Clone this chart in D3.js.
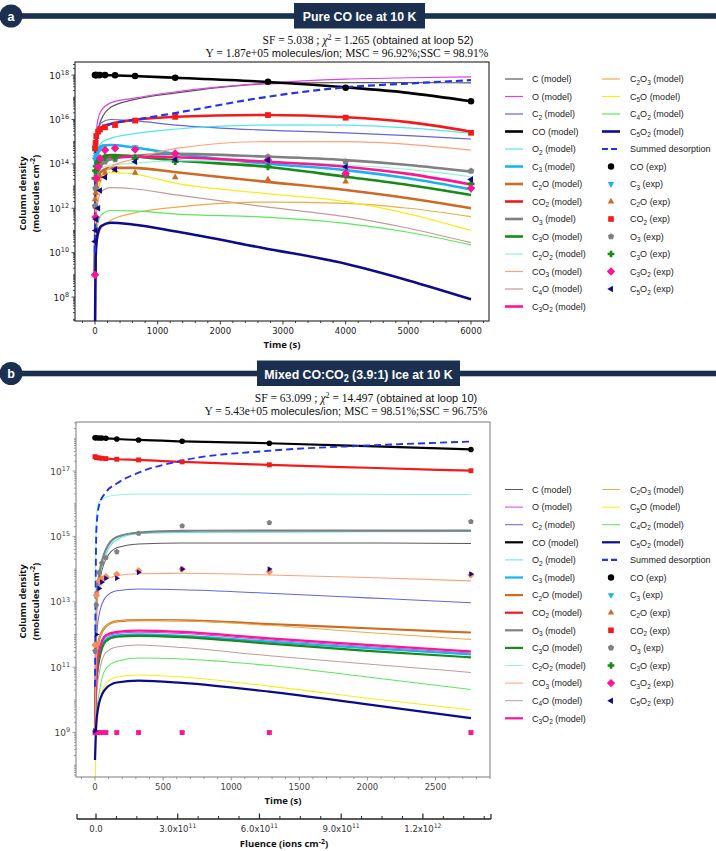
<!DOCTYPE html>
<html>
<head>
<meta charset="utf-8">
<script src="https://cdn.jsdelivr.net/npm/d3@7"></script>
<style>
  body { margin: 0; background: #fff; }
  svg { display: block; }
</style>
</head>
<body>
<div id="chart"></div>
<script>
// All values are log10(column density / molecules cm^-2).

// ---------- panel a : pure CO ice ----------
const modelTimesA = [0, 10, 40, 100, 250, 600, 1300, 2700, 4000, 5000, 6000];
const aC    = [9, 14.3, 15.4, 16.0, 16.55, 16.88, 17.2, 17.6, 17.66, 17.66, 17.65];
const aO    = [9, 14.8, 15.9, 16.4, 16.75, 16.95, 17.25, 17.63, 17.82, 17.88, 17.92];
const aC2   = [9, 14.0, 15.3, 15.85, 16.0, 15.95, 15.75, 15.52, 15.4, 15.27, 15.12];
const aCO   = [18.0, 18.0, 18.0, 18.0, 17.99, 17.96, 17.88, 17.7, 17.45, 17.2, 16.82];
const aO2   = [9, 13.5, 14.5, 14.95, 15.15, 15.35, 15.57, 15.75, 15.75, 15.62, 15.38];
const aC3   = [9, 13.8, 14.55, 14.8, 14.85, 14.75, 14.45, 14.02, 13.72, 13.35, 12.85];
const aC2O  = [9, 12.5, 13.3, 13.65, 13.82, 13.82, 13.62, 13.2, 12.82, 12.45, 12.0];
const aCO2  = [14.5, 14.9, 15.35, 15.65, 15.8, 15.97, 16.12, 16.2, 16.1, 15.88, 15.45];
const aO3   = [9, 12.5, 13.5, 13.95, 14.2, 14.35, 14.45, 14.33, 14.17, 13.95, 13.65];
const aC3O  = [9, 13.0, 13.9, 14.3, 14.4, 14.35, 14.15, 13.88, 13.42, 13.05, 12.6];
const aC2O2 = [9, 12.8, 13.5, 13.8, 13.95, 14.02, 14.15, 14.1, 13.95, 13.75, 13.42];
const aCO3  = [9, 11.5, 12.6, 13.3, 13.85, 14.2, 14.7, 15.0, 15.0, 14.88, 14.62];
const aC4O  = [9, 11.0, 12.2, 12.75, 12.93, 12.88, 12.6, 12.07, 11.62, 11.1, 10.45];
const aC3O2 = [9, 13.2, 13.95, 14.2, 14.3, 14.32, 14.3, 14.1, 13.87, 13.55, 13.07];
const aC2O3 = [9, 9.8, 10.6, 11.1, 11.45, 11.77, 12.05, 12.28, 12.22, 12.0, 11.62];
const aC5O  = [9, 11.5, 12.8, 13.4, 13.62, 13.55, 13.12, 12.67, 12.3, 11.75, 11.0];
const aC4O2 = [9, 10.3, 11.2, 11.7, 11.9, 11.88, 11.74, 11.6, 11.32, 10.92, 10.35];
const aC5O2 = [6.0, 9.8, 10.8, 11.2, 11.35, 11.27, 10.95, 10.2, 9.5, 8.75, 7.9];
const aSum  = [10.0, 14.8, 15.3, 15.55, 15.8, 15.97, 16.3, 17.0, 17.45, 17.62, 17.77];

const expTimesA = [0, 10, 20, 50, 80, 160, 320, 640, 1280, 2760, 4000, 6000];
const aCOexp   = [18.0, 18.0, 18.0, 18.0, 18.0, 18.0, 17.99, 17.96, 17.88, 17.7, 17.43, 16.82];
const aC3exp   = [14.2, 14.3, 14.4, 14.55, 14.7, 14.8, 14.8, 14.75, 14.45, 14.0, 13.7, 12.85];
const aC2Oexp  = [12.4, 12.7, 13.0, 13.3, 13.45, 13.6, 13.72, 13.6, 13.4, 13.3, 13.2, null];
const aCO2exp  = [14.7, 14.95, 15.25, 15.45, 15.55, 15.65, 15.75, 15.95, 16.12, 16.2, 16.08, 15.4];
const aO3exp   = [12.1, 12.9, 13.6, 13.8, 13.95, 14.1, 14.2, 14.3, 14.43, 14.32, 14.1, 13.68];
const aC3Oexp  = [13.35, 13.7, 13.9, 14.1, 14.2, 14.3, 14.3, 14.25, 14.1, 13.87, 13.5, 13.1];
const aC3O2exp = [9.0, 11.6, 13.35, 13.87, 14.25, 14.62, 14.7, 14.65, 14.47, 14.17, 13.57, 12.9];
const aC5O2exp = [10.5, 11.0, 11.5, 12.0, 12.8, 13.4, 13.75, 14.1, 14.2, 14.17, 13.87, 13.3];

// ---------- panel b : mixed CO:CO2 ice ----------
const modelTimesB = [0, 10, 30, 80, 160, 320, 640, 1280, 2000, 2760];
const bC    = [9, 12.6, 13.5, 14.3, 14.65, 14.77, 14.8, 14.8, 14.8, 14.78];
const bO    = [9, 10.7, 11.4, 11.93, 12.03, 12.07, 12.03, 11.83, 11.63, 11.43];
const bC2   = [9, 11.8, 12.6, 13.15, 13.34, 13.39, 13.37, 13.26, 13.12, 12.97];
const bCO   = [18.02, 18.02, 18.01, 18.0, 17.98, 17.95, 17.91, 17.85, 17.76, 17.66];
const bO2   = [9, 12.8, 13.6, 14.45, 14.9, 15.08, 15.12, 15.13, 15.14, 15.15];
const bC3   = [9, 10.6, 11.3, 11.85, 11.97, 12.0, 11.96, 11.78, 11.58, 11.39];
const bC2O  = [9, 11.2, 11.85, 12.25, 12.4, 12.44, 12.43, 12.32, 12.19, 12.06];
const bCO2  = [17.44, 17.41, 17.4, 17.38, 17.36, 17.34, 17.28, 17.19, 17.1, 17.01];
const bO3   = [9, 13.1, 13.8, 14.6, 14.98, 15.12, 15.17, 15.18, 15.18, 15.18];
const bC3O  = [9, 10.5, 11.2, 11.8, 11.93, 11.96, 11.92, 11.72, 11.5, 11.3];
const bC2O2 = [12, 15.6, 16.05, 16.2, 16.27, 16.3, 16.3, 16.3, 16.29, 16.28];
const bCO3  = [9, 12.8, 13.35, 13.68, 13.8, 13.86, 13.87, 13.82, 13.74, 13.64];
const bC4O  = [9, 10.0, 10.8, 11.45, 11.62, 11.68, 11.6, 11.35, 11.1, 10.84];
const bC3O2 = [9, 10.8, 11.5, 11.98, 12.08, 12.12, 12.08, 11.88, 11.68, 11.48];
const bC2O3 = [9, 11.2, 11.85, 12.25, 12.4, 12.44, 12.42, 12.28, 12.06, 11.85];
const bC5O  = [7.0, 9.0, 9.8, 10.5, 10.7, 10.76, 10.7, 10.42, 10.05, 9.69];
const bC4O2 = [8.5, 9.5, 10.2, 10.95, 11.18, 11.28, 11.25, 11.05, 10.7, 10.32];
const bC5O2 = [8.16, 9.3, 9.9, 10.35, 10.53, 10.59, 10.52, 10.25, 9.86, 9.44];
const bSum  = [10.4, 15.2, 15.95, 16.35, 16.62, 16.95, 17.32, 17.62, 17.78, 17.9];

const expTimesB = [0, 10, 30, 50, 80, 160, 320, 640, 1280, 2760];
const bCOexp   = [18.02, 18.02, 18.01, 18.01, 18.0, 17.98, 17.95, 17.91, 17.85, 17.66];
const bC3exp   = [9, 9, 9, 9, 9, 9, 9, 9, 9, 9];
const bC2Oexp  = [11.68, 13.2, 13.64, 13.7, 13.77, 13.84, 13.95, 14.0, 13.92, 13.82];
const bCO2exp  = [17.44, 17.41, 17.4, 17.39, 17.38, 17.36, 17.34, 17.28, 17.19, 17.01];
const bO3exp   = [11.5, 12.9, 13.9, 14.18, 14.35, 14.53, 15.09, 15.32, 15.42, 15.45];
const bC3Oexp  = [null, null, null, null, null, null, null, null, null, null];
const bC3O2exp = [9, 9, 9, 9, 9, 9, 9, 9, 9, 9];
const bC5O2exp = [9.05, 12.0, 13.41, 13.6, 13.72, 13.72, 13.9, 14.0, 14.0, 13.85];

// ---------- styles ----------
const modelStyles = [
  { sp: "C",    color: "#5a5a5a", w: 1.2 },
  { sp: "O",    color: "#e040e0", w: 1.2 },
  { sp: "C2",   color: "#6464dc", w: 1.2 },
  { sp: "CO",   color: "#000000", w: 2.6 },
  { sp: "O2",   color: "#50e6ee", w: 1.2 },
  { sp: "C3",   color: "#18b4f0", w: 2.6 },
  { sp: "C2O",  color: "#cd6a24", w: 2.6 },
  { sp: "CO2",  color: "#f21a1a", w: 2.6 },
  { sp: "O3",   color: "#808080", w: 2.6 },
  { sp: "C3O",  color: "#178a17", w: 2.6 },
  { sp: "C2O2", color: "#8ef5d8", w: 1.2 },
  { sp: "CO3",  color: "#ffa07a", w: 1.2 },
  { sp: "C4O",  color: "#c49a9a", w: 1.2 },
  { sp: "C3O2", color: "#ff1493", w: 2.6 },
  { sp: "C2O3", color: "#f0aa48", w: 1.2 },
  { sp: "C5O",  color: "#f4ef14", w: 1.2 },
  { sp: "C4O2", color: "#5ae85a", w: 1.2 },
  { sp: "C5O2", color: "#0b0b8c", w: 2.6 }
];
const expStyles = [
  { sp: "CO",   color: "#000000", shape: "circle" },
  { sp: "C3",   color: "#18b4f0", shape: "tdown" },
  { sp: "C2O",  color: "#cd6a24", shape: "tup" },
  { sp: "CO2",  color: "#f21a1a", shape: "square" },
  { sp: "O3",   color: "#808080", shape: "pentagon" },
  { sp: "C3O",  color: "#178a17", shape: "plus" },
  { sp: "C3O2", color: "#ff1493", shape: "diamond" },
  { sp: "C5O2", color: "#0b0b8c", shape: "tleft" }
];
const SUM_COLOR = "#1e32f0";
const NAVY = "#1b3050";
const W = 716, H = 851;
const LEG_FONT = "'Liberation Sans', Arial, sans-serif";

const svg = d3.select("#chart").append("svg")
  .attr("width", W).attr("height", H)
  .style("font-family", "'DejaVu Sans', sans-serif");

// ---------- helpers ----------
function addFormula(sel, str, size) {
  // digits in a chemical formula are drawn as subscripts
  const parts = str.match(/[A-Za-z]+|\d+/g);
  let down = false;
  parts.forEach(p => {
    const isNum = /^\d+$/.test(p);
    const t = sel.append("tspan").text(p);
    if (isNum) { t.attr("dy", size * 0.28).attr("font-size", size * 0.72); down = true; }
    else if (down) { t.attr("dy", -size * 0.28); down = false; }
  });
  return down;
}

function addPow(sel, base, exp, size) {
  sel.append("tspan").text(base);
  sel.append("tspan").text(exp).attr("dy", -size * 0.42).attr("font-size", size * 0.72);
}

function markerPath(shape, r) {
  const rot = (pts, a) => pts.map(([px, py]) => [px * Math.cos(a) - py * Math.sin(a), px * Math.sin(a) + py * Math.cos(a)]);
  const poly = pts => d3.line()(pts) + "Z";
  const tri = [[0, -r * 1.15], [r, r * 0.6], [-r, r * 0.6]];
  switch (shape) {
    case "circle": return d3.symbol(d3.symbolCircle, Math.PI * r * r)();
    case "square": return d3.symbol(d3.symbolSquare, (1.75 * r) ** 2)();
    case "diamond": return poly([[0, -r * 1.3], [r * 1.3, 0], [0, r * 1.3], [-r * 1.3, 0]]);
    case "tup": return poly(tri);
    case "tdown": return poly(rot(tri, Math.PI));
    case "tleft": return poly(rot(tri, -Math.PI / 2));
    case "tright": return poly(rot(tri, Math.PI / 2));
    case "pentagon": return poly(d3.range(5).map(i => {
      const a = -Math.PI / 2 + i * 2 * Math.PI / 5;
      return [r * 1.05 * Math.cos(a), r * 1.05 * Math.sin(a)];
    }));
    case "plus": {
      const a = r * 1.05, b = r * 0.42;
      return poly([[-b, -a], [b, -a], [b, -b], [a, -b], [a, b], [b, b], [b, a], [-b, a], [-b, b], [-a, b], [-a, -b], [-b, -b]]);
    }
  }
}

function drawHeader(cy, letter, boxX, boxW, fill) {
  svg.append("rect").attr("x", 11).attr("y", cy - 2.8).attr("width", W - 11).attr("height", 5.6).attr("fill", NAVY);
  svg.append("circle").attr("cx", 11).attr("cy", cy).attr("r", 11.5).attr("fill", NAVY);
  svg.append("text").attr("x", 11).attr("y", cy + 4.5).attr("text-anchor", "middle")
    .attr("fill", "#fff").attr("font-weight", "bold").attr("font-size", 12.5)
    .attr("font-family", "'Liberation Sans', Arial, sans-serif").text(letter);
  svg.append("rect").attr("x", boxX).attr("y", cy - 13).attr("width", boxW).attr("height", 25.5).attr("fill", NAVY);
  // narrow bold title: Liberation Sans squeezed horizontally
  const t = svg.append("text")
    .attr("transform", `translate(${boxX + boxW / 2},${cy + 5.2}) scale(0.9,1)`)
    .attr("text-anchor", "middle").attr("fill", "#fff").attr("font-weight", "bold")
    .attr("font-size", 13.7).attr("font-family", "'Liberation Sans', Arial, sans-serif");
  fill(t);
}

function drawStats(cx1, cx2, y1, y2, sf, chi, loop, yld, msc, ssc) {
  const serif = "'Liberation Serif', 'DejaVu Serif', serif";
  const narrow = "'Liberation Sans Narrow', 'Liberation Sans', sans-serif";
  const l1 = svg.append("text").attr("x", cx1).attr("y", y1).attr("text-anchor", "middle")
    .attr("font-size", 11.5).attr("fill", "#111").attr("font-family", serif);
  l1.append("tspan").text(`SF = ${sf} ; `);
  l1.append("tspan").text("χ").attr("font-style", "italic");
  l1.append("tspan").text("2").attr("dy", -4.5).attr("font-size", 8);
  l1.append("tspan").text(` = ${chi} `).attr("dy", 4.5);
  l1.append("tspan").text(`(obtained at loop ${loop})`).attr("font-family", narrow).attr("font-size", 11);
  const l2 = svg.append("text").attr("x", cx2).attr("y", y2).attr("text-anchor", "middle")
    .attr("font-size", 11.5).attr("fill", "#111").attr("font-family", serif);
  l2.append("tspan").text(`Y = ${yld} `);
  l2.append("tspan").text("molecules/ion; ").attr("font-family", narrow).attr("font-size", 11);
  l2.append("tspan").text(`MSC = ${msc}%;SSC = ${ssc}%`);
}

function drawPanel(p) {
  const x = d3.scaleLinear().domain(p.xDomain).range([p.left, p.right]);
  const y = d3.scaleLog().domain(p.yDomain).range([p.bottom, p.top]);
  const clipId = "clip-" + p.id;
  svg.append("clipPath").attr("id", clipId).append("rect")
    .attr("x", p.left).attr("y", p.top).attr("width", p.right - p.left).attr("height", p.bottom - p.top);

  const line = d3.line()
    .defined(d => d[1] != null)
    .x(d => x(d[0])).y(d => y(Math.pow(10, d[1])))
    .curve(d3.curveMonotoneX);

  const gLines = svg.append("g").attr("clip-path", `url(#${clipId})`);
  p.models.forEach((vals, i) => {
    const st = modelStyles[i];
    gLines.append("path")
      .datum(p.modelTimes.map((t, j) => [t, vals[j]]))
      .attr("d", line).attr("fill", "none")
      .attr("stroke", st.color).attr("stroke-width", st.w * p.lw)
      .attr("stroke-linejoin", "round");
  });
  gLines.append("path")
    .datum(p.modelTimes.map((t, j) => [t, p.sum[j]]))
    .attr("d", line).attr("fill", "none")
    .attr("stroke", SUM_COLOR).attr("stroke-width", 2.2 * p.lw)
    .attr("stroke-dasharray", "7,4");

  const gPts = svg.append("g");
  p.exps.forEach((vals, i) => {
    const st = expStyles[i];
    const shape = (p.shapeOverride && p.shapeOverride[i]) || st.shape;
    const color = (p.colorOverride && p.colorOverride[i]) || st.color;
    gPts.selectAll(null)
      .data(p.expTimes.map((t, j) => [t, vals[j]]).filter(d => d[1] != null))
      .join("path")
      .attr("transform", d => `translate(${x(d[0])},${y(Math.pow(10, d[1]))})`)
      .attr("d", markerPath(shape, p.mr))
      .attr("fill", color);
  });

  // frame
  svg.append("rect").attr("x", p.left).attr("y", p.top)
    .attr("width", p.right - p.left).attr("height", p.bottom - p.top)
    .attr("fill", "none").attr("stroke", p.frame).attr("stroke-width", 1.1);

  // x ticks
  const gx = svg.append("g").attr("stroke", p.frame).attr("stroke-width", 0.9);
  d3.range(p.xMinor[0], p.xMinor[1] + 1, p.xMinor[2]).forEach(v => {
    if (x(v) < p.left || x(v) > p.right) return;
    const major = v % p.xMajorStep === 0 && v >= 0;
    gx.append("line").attr("x1", x(v)).attr("x2", x(v))
      .attr("y1", p.bottom).attr("y2", p.bottom + (major ? 3.5 : 2));
  });
  d3.range(0, p.xMajorMax + 1, p.xMajorStep).forEach(v => {
    svg.append("text").attr("x", x(v)).attr("y", p.bottom + 13).attr("text-anchor", "middle")
      .attr("font-size", 8.5).attr("fill", p.labelColor).text(v);
  });
  svg.append("text").attr("x", (p.left + p.right) / 2).attr("y", p.bottom + 27)
    .attr("text-anchor", "middle").attr("font-size", 9.5).attr("font-weight", "bold")
    .attr("font-family", "'Open Sans', sans-serif").attr("fill", "#111").text("Time (s)");

  // y ticks (log)
  const gy = svg.append("g").attr("stroke", p.frame).attr("stroke-width", 0.8);
  const [lo, hi] = p.yDomain.map(Math.log10);
  for (let d = Math.floor(lo); d <= Math.ceil(hi); d++) {
    for (let k = 1; k <= 9; k++) {
      const v = k * Math.pow(10, d);
      if (v < p.yDomain[0] || v > p.yDomain[1]) continue;
      const major = k === 1 && p.yMajor.includes(d);
      gy.append("line").attr("x1", p.left).attr("x2", p.left - (major ? 3.5 : 2))
        .attr("y1", y(v)).attr("y2", y(v));
    }
  }
  p.yMajor.forEach(d => {
    const t = svg.append("text").attr("x", p.left - 6).attr("y", y(Math.pow(10, d)) + 3.5)
      .attr("text-anchor", "end").attr("font-size", 9).attr("fill", p.labelColor);
    addPow(t, "10", d, 9);
  });
  const cy = (p.top + p.bottom) / 2 + 2;
  const yl = svg.append("text").attr("transform", `translate(26,${cy}) rotate(-90)`)
    .attr("text-anchor", "middle").attr("font-size", 9.5).attr("font-weight", "bold")
    .attr("font-family", "'Open Sans', sans-serif").attr("fill", "#111");
  yl.append("tspan").attr("x", 0).attr("y", 0).text("Column density");
  const yl2 = yl.append("tspan").attr("x", 0).attr("y", 12.5);
  yl2.append("tspan").text("(molecules cm");
  yl2.append("tspan").text("-2").attr("dy", -3.5).attr("font-size", 7);
  yl2.append("tspan").text(")").attr("dy", 3.5);

  // legend
  const lg = svg.append("g").attr("font-size", 9).attr("font-family", LEG_FONT);
  const rowY = i => p.legY + i * p.legDy;
  const entry = (col, row) => ({ lx: col === 0 ? 505 : 602, tx: col === 0 ? 532 : 630, y: rowY(row) });
  const legendItems = [];
  modelStyles.forEach(st => legendItems.push({ kind: "model", st, label: " (model)" }));
  legendItems.push({ kind: "sum" });
  expStyles.forEach(st => legendItems.push({ kind: "exp", st, label: " (exp)" }));
  legendItems.forEach((it, i) => {
    const col = i < 14 ? 0 : 1;
    const row = i < 14 ? i : i - 14;
    const e = entry(col, row);
    if (it.kind === "model") {
      lg.append("line").attr("x1", e.lx).attr("x2", e.lx + 18).attr("y1", e.y).attr("y2", e.y)
        .attr("stroke", it.st.color).attr("stroke-width", it.st.w * p.lw);
    } else if (it.kind === "sum") {
      lg.append("line").attr("x1", e.lx).attr("x2", e.lx + 18).attr("y1", e.y).attr("y2", e.y)
        .attr("stroke", SUM_COLOR).attr("stroke-width", 2.2).attr("stroke-dasharray", "6,3");
    } else {
      lg.append("path").attr("transform", `translate(${e.lx + 9},${e.y})`)
        .attr("d", markerPath(it.st.shape, 3.2)).attr("fill", it.st.color);
    }
    const t = lg.append("text").attr("x", e.tx).attr("y", e.y + 3.2).attr("fill", "#222");
    if (it.kind === "sum") { t.text("Summed desorption"); return; }
    const down = addFormula(t, it.st.sp, 9);
    t.append("tspan").text(it.label).attr("dy", down ? -9 * 0.28 : null);
  });
  return x;
}

// ---------- panel a ----------
drawHeader(16, "a", 294, 131, t => t.text("Pure CO Ice at 10 K"));
drawStats(368, 347, 44, 57, "5.038", "1.265", 52, "1.87e+05", "96.92", "98.91");
drawPanel({
  id: "a", left: 75, right: 489, top: 62, bottom: 321,
  xDomain: [-319, 6287], yDomain: [Math.pow(10, 6.92), Math.pow(10, 18.59)],
  xMajorStep: 1000, xMajorMax: 6000, xMinor: [-200, 6200, 200],
  yMajor: [8, 10, 12, 14, 16, 18],
  modelTimes: modelTimesA,
  models: [aC, aO, aC2, aCO, aO2, aC3, aC2O, aCO2, aO3, aC3O, aC2O2, aCO3, aC4O, aC3O2, aC2O3, aC5O, aC4O2, aC5O2],
  sum: aSum,
  expTimes: expTimesA,
  exps: [aCOexp, aC3exp, aC2Oexp, aCO2exp, aO3exp, aC3Oexp, aC3O2exp, aC5O2exp],
  mr: 3.3, lw: 1, frame: "#222", labelColor: "#222",
  legY: 79, legDy: 17.5
});

// ---------- panel b ----------
drawHeader(373.5, "b", 257, 203, t => {
  t.append("tspan").text("Mixed CO:CO");
  t.append("tspan").text("2").attr("dy", 3.5).attr("font-size", 10);
  t.append("tspan").text(" (3.9:1) Ice at 10 K").attr("dy", -3.5);
});
drawStats(366, 346, 402, 415, "63.099", "14.497", 10, "5.43e+05", "98.51", "96.75");
const xb = drawPanel({
  id: "b", left: 76, right: 490, top: 422, bottom: 777,
  xDomain: [-139.5, 2900], yDomain: [Math.pow(10, 7.64), Math.pow(10, 18.5)],
  xMajorStep: 500, xMajorMax: 2500, xMinor: [-100, 2900, 100],
  yMajor: [9, 11, 13, 15, 17],
  modelTimes: modelTimesB,
  models: [bC, bO, bC2, bCO, bO2, bC3, bC2O, bCO2, bO3, bC3O, bC2O2, bCO3, bC4O, bC3O2, bC2O3, bC5O, bC4O2, bC5O2],
  sum: bSum,
  expTimes: expTimesB,
  exps: [bCOexp, bC3exp, bC2Oexp, bCO2exp, bO3exp, bC3Oexp, bC3O2exp, bC5O2exp],
  shapeOverride: [null, null, "diamond", null, null, null, "square", "tright"],
  colorOverride: [null, null, "#ff8a55", null, null, null, null, null],
  mr: 2.8, lw: 0.85, frame: "#888", labelColor: "#444",
  legY: 489.5, legDy: 17.6
});

// ---------- fluence axis under panel b ----------
const FLUX = 5e8; // ions cm^-2 s^-1
const fluenceTicks = [0, 3e11, 6e11, 9e11, 1.2e12];
const fx = d3.scaleLinear().domain(xb.domain().map(t => t * FLUX)).range([77, 491]);
const fy = 819;
const gf = svg.append("g").attr("stroke", "#222");
gf.append("line").attr("x1", 77).attr("x2", 491).attr("y1", fy).attr("y2", fy).attr("stroke-width", 1.3);
[77, 491].forEach(px => gf.append("line").attr("x1", px).attr("x2", px).attr("y1", fy).attr("y2", fy - 5).attr("stroke-width", 1.2));
d3.range(-7.5e10, 1.45e12, 7.5e10).forEach(v => {
  const px = fx(v);
  if (px < 78 || px > 490) return;
  const major = fluenceTicks.some(m => Math.abs(m - v) < 1e9);
  gf.append("line").attr("x1", px).attr("x2", px).attr("y1", fy).attr("y2", fy - (major ? 5.5 : 3))
    .attr("stroke-width", major ? 1.2 : 1);
});
fluenceTicks.forEach(v => {
  const t = svg.append("text").attr("x", fx(v)).attr("y", fy + 13).attr("text-anchor", "middle")
    .attr("font-size", 8.5).attr("fill", "#333");
  if (v === 0) { t.text("0.0"); return; }
  const e = Math.floor(Math.log10(v));
  addPow(t, (v / Math.pow(10, e)).toFixed(1) + "x10", e, 8.5);
});
const fl = svg.append("text").attr("x", 284).attr("y", 847).attr("text-anchor", "middle")
  .attr("font-size", 9.5).attr("font-weight", "bold").attr("font-family", "'Open Sans', sans-serif").attr("fill", "#111");
fl.append("tspan").text("Fluence (ions cm");
fl.append("tspan").text("-2").attr("dy", -3.5).attr("font-size", 7);
fl.append("tspan").text(")").attr("dy", 3.5);
</script>
</body>
</html>
